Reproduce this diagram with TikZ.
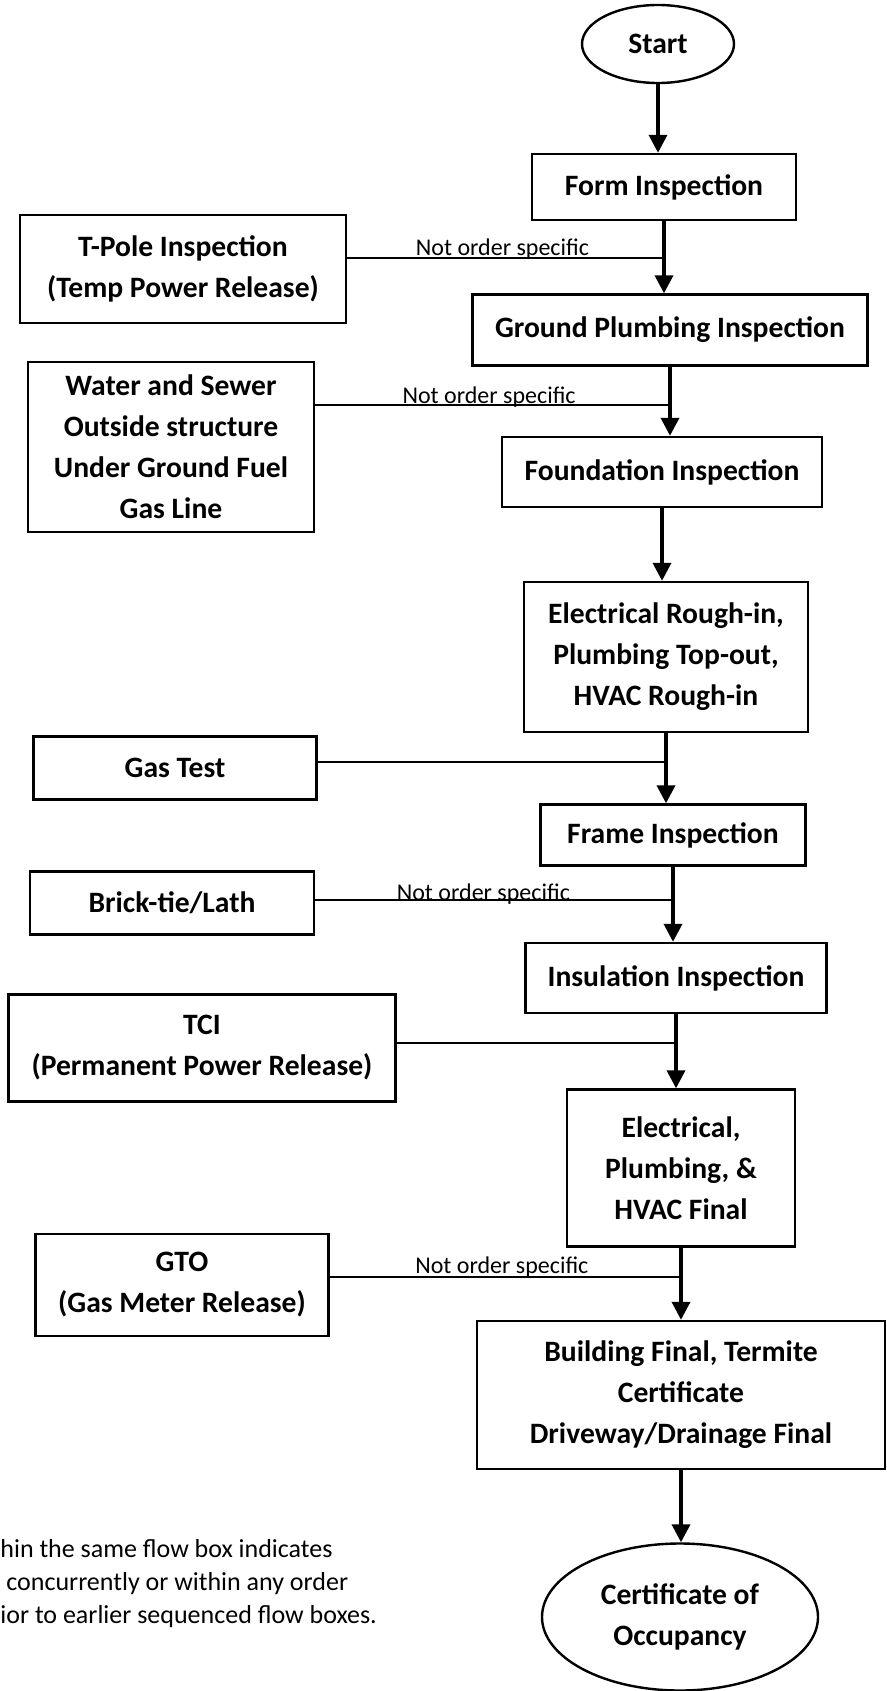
\documentclass[tikz,border=0pt]{standalone}
\usepackage{fontspec}
\setmainfont{Carlito}
\usetikzlibrary{shapes.geometric,arrows.meta}

\begin{document}
\begin{tikzpicture}[x=0.5pt, y=-0.5pt]
    % Define styles
    \tikzset{
        stage/.style={
            draw,
            line width=1.2pt,
            align=center,
            inner sep=2pt,
            font=\fontsize{14.8}{20.5}\selectfont\bfseries
        },
        terminal/.style={
            stage,
            ellipse
        },
        flow/.style={
            line width=1.8pt,
            -{Triangle[width=9pt,length=9pt]}
        },
        link/.style={
            line width=1pt
        },
        note/.style={
            font=\fontsize{12}{14}\selectfont,
            inner sep=0pt,
            anchor=base
        },
        remark/.style={
            font=\fontsize{13}{16}\selectfont,
            inner sep=0pt,
            anchor=base west
        }
    }
    \useasboundingbox (0,0) rectangle (887,1691);

    % Main sequence
    \node[terminal, minimum width=76pt, minimum height=39pt] (start) at (658,44) {Start};
    \node[stage, minimum width=132pt, minimum height=33pt] (form) at (664,187) {Form Inspection};
    \node[stage, minimum width=197.5pt, minimum height=35.5pt] (ground) at (670,330) {Ground Plumbing Inspection};
    \node[stage, minimum width=160pt, minimum height=35pt] (foundation) at (662,472) {Foundation Inspection};
    \node[stage, minimum width=142pt, minimum height=75pt] (roughin) at (666,657)
        {Electrical Rough-in,\\Plumbing Top-out,\\HVAC Rough-in};
    \node[stage, minimum width=132.5pt, minimum height=30.5pt] (frame) at (673,835) {Frame Inspection};
    \node[stage, minimum width=150.5pt, minimum height=35pt] (insulation) at (676,978) {Insulation Inspection};
    \node[stage, minimum width=114pt, minimum height=78.5pt] (final) at (681,1168)
        {Electrical,\\Plumbing, \&\\HVAC Final};
    \node[stage, minimum width=204pt, minimum height=74pt] (building) at (681,1395)
        {Building Final, Termite\\Certificate\\Driveway/Drainage Final};
    \node[terminal, minimum width=138pt, minimum height=73.5pt] (occupancy) at (680,1617)
        {Certificate of\\Occupancy};

    % Side inspections
    \node[stage, minimum width=163pt, minimum height=54pt] (tpole) at (183,269)
        {T-Pole Inspection\\(Temp Power Release)};
    \node[stage, minimum width=143pt, minimum height=85pt] (water) at (171,447)
        {Water and Sewer\\Outside structure\\Under Ground Fuel\\Gas Line};
    \node[stage, minimum width=141.5pt, minimum height=31.5pt] (gastest) at (175,768) {Gas Test};
    \node[stage, minimum width=142pt, minimum height=31.5pt] (brick) at (172,903) {Brick-tie/Lath};
    \node[stage, minimum width=193.5pt, minimum height=53.5pt] (tci) at (202,1048)
        {TCI\\(Permanent Power Release)};
    \node[stage, minimum width=146.5pt, minimum height=51pt] (gto) at (182,1285)
        {GTO\\(Gas Meter Release)};

    % Junctions on the main line
    \coordinate (j1) at (form.south |- 0,258);
    \coordinate (j2) at (ground.south |- 0,405);
    \coordinate (j3) at (roughin.south |- 0,762);
    \coordinate (j4) at (frame.south |- 0,900);
    \coordinate (j5) at (insulation.south |- 0,1043);
    \coordinate (j6) at (final.south |- 0,1277);

    % Main arrows
    \draw[flow] (start.south) -- (start.south |- form.north);
    \draw[flow] (form.south) -- (form.south |- ground.north);
    \draw[flow] (ground.south) -- (ground.south |- foundation.north);
    \draw[flow] (foundation.south) -- (foundation.south |- roughin.north);
    \draw[flow] (roughin.south) -- (roughin.south |- frame.north);
    \draw[flow] (frame.south) -- (frame.south |- insulation.north);
    \draw[flow] (insulation.south) -- (insulation.south |- final.north);
    \draw[flow] (final.south) -- (final.south |- building.north);
    \draw[flow] (building.south) -- (building.south |- occupancy.north);

    % Side links
    \draw[link] (tpole.east |- j1) -- (j1) node[note, pos=0.49, yshift=1.5pt] {Not order specific};
    \draw[link] (water.east |- j2) -- (j2) node[note, pos=0.49, yshift=1pt] {Not order specific};
    \draw[link] (gastest.east |- j3) -- (j3);
    \draw[link] (brick.east |- j4) -- (j4) node[note, pos=0.47] {Not order specific};
    \draw[link] (tci.east |- j5) -- (j5);
    \draw[link] (gto.east |- j6) -- (j6) node[note, pos=0.49, yshift=2pt] {Not order specific};

    % Footnote (cut at the left edge)
    \node[remark] (remark1) at (0,1557) {hin the same flow box indicates};
    \node[remark] (remark2) at (6,1590) {concurrently or within any order};
    \node[remark] (remark3) at (0,1623) {ior to earlier sequenced flow boxes.};
\end{tikzpicture}
\end{document}
